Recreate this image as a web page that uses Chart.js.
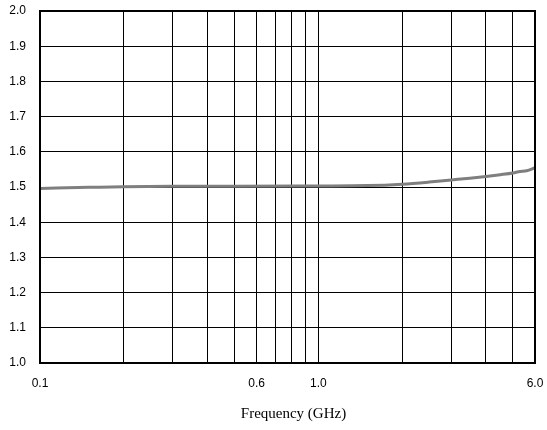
<!DOCTYPE html>
<html>
<head>
<meta charset="utf-8">
<script src="https://cdn.jsdelivr.net/npm/chart.js@4"></script>
<style>
html,body{margin:0;padding:0;background:#fff;}
#c{display:block;}
</style>
</head>
<body>
<canvas id="c" width="547" height="430"></canvas>
<script>
const freqs = [0.1, 0.15, 0.2, 0.3, 0.5, 1.0, 1.5, 2.0, 2.5, 3.0, 3.5, 4.0, 4.5, 5.0, 5.3, 5.6, 6.0];
const values = [1.496, 1.499, 1.501, 1.502, 1.502, 1.503, 1.504, 1.508, 1.514, 1.520, 1.525, 1.530, 1.535, 1.540, 1.544, 1.546, 1.555];
const xGrid = [0.1, 0.2, 0.3, 0.4, 0.5, 0.6, 0.7, 0.8, 0.9, 1.0, 2.0, 3.0, 4.0, 5.0, 6.0];
const xLabels = [0.1, 0.6, 1.0, 6.0];
const yTicks = [1.0, 1.1, 1.2, 1.3, 1.4, 1.5, 1.6, 1.7, 1.8, 1.9, 2.0];
const xTitle = 'Frequency (GHz)';

const tickFont = {family: '"Liberation Sans", Arial, sans-serif', size: 12};

function zeroPad(s) {
  s.paddingLeft = 0; s.paddingRight = 0; s.paddingTop = 0; s.paddingBottom = 0;
}

new Chart(document.getElementById('c'), {
  type: 'line',
  data: {
    datasets: [{
      data: freqs.map((f, i) => ({x: f, y: values[i]})),
      borderColor: '#7f7f7f',
      borderWidth: 3,
      pointRadius: 0,
      cubicInterpolationMode: 'monotone',
      fill: false
    }]
  },
  options: {
    responsive: false,
    devicePixelRatio: 1,
    animation: false,
    layout: {padding: {top: 11, right: 12, left: 0, bottom: 0}},
    plugins: {legend: {display: false}, tooltip: {enabled: false}},
    scales: {
      x: {
        type: 'logarithmic',
        min: 0.1,
        max: 6.0,
        afterBuildTicks: (s) => { s.ticks = xGrid.map(v => ({value: v})); },
        afterFit: (s) => { s.height = 67; zeroPad(s); },
        ticks: {
          autoSkip: false,
          maxRotation: 0,
          color: '#000',
          font: tickFont,
          padding: 13,
          callback: (v) => xLabels.some(l => Math.abs(l - v) < 1e-9) ? Number(v).toFixed(1) : ''
        },
        grid: {color: '#000', lineWidth: 1, drawTicks: false},
        border: {color: '#000', width: 2}
      },
      y: {
        type: 'linear',
        min: 1.0,
        max: 2.0,
        afterBuildTicks: (s) => { s.ticks = yTicks.map(v => ({value: v})); },
        afterFit: (s) => { s.width = 40; zeroPad(s); },
        ticks: {
          color: '#000',
          font: tickFont,
          padding: 14,
          callback: (v) => Number(v).toFixed(1)
        },
        grid: {color: '#000', lineWidth: 1, drawTicks: false},
        border: {color: '#000', width: 2}
      }
    }
  },
  plugins: [{
    id: 'frameAndTitle',
    afterDraw(chart) {
      const a = chart.chartArea, ctx = chart.ctx;
      ctx.save();
      ctx.strokeStyle = '#000';
      ctx.lineWidth = 2;
      ctx.strokeRect(a.left, a.top, a.right - a.left, a.bottom - a.top);
      ctx.fillStyle = '#000';
      ctx.font = '15px "Liberation Serif", "Times New Roman", serif';
      ctx.textAlign = 'center';
      ctx.textBaseline = 'middle';
      ctx.fillText(xTitle, (a.left + a.right) / 2 + 6, 414);
      ctx.restore();
    }
  }]
});
</script>
</body>
</html>
